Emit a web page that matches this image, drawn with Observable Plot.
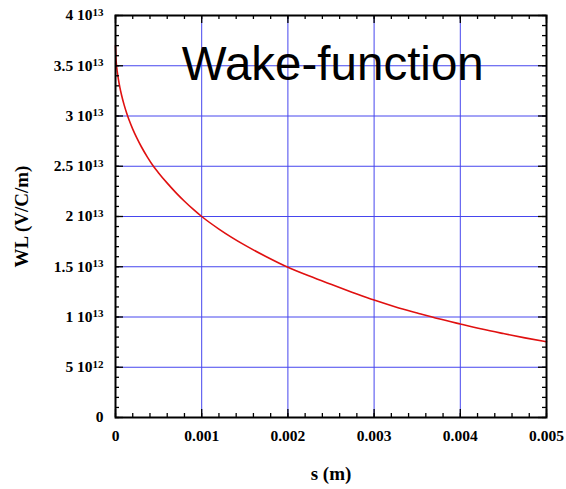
<!DOCTYPE html>
<html>
<head>
<meta charset="utf-8">
<script src="https://cdn.jsdelivr.net/npm/d3@7"></script>
<script src="https://cdn.jsdelivr.net/npm/@observablehq/plot@0.6"></script>
<style>
  html, body { margin: 0; padding: 0; background: #fff; }
</style>
</head>
<body>
<div id="chart"></div>
<script>
// Longitudinal wake function W_L(s) sampled along the bunch coordinate s (m)
const sValues = [0, 0.000005, 0.00001, 0.00002, 0.00003, 0.00005, 0.00007, 0.0001, 0.00013, 0.00016, 0.0002,
                 0.00025, 0.0003, 0.00037, 0.00044, 0.0005, 0.0006, 0.0007, 0.0008, 0.0009, 0.001,
                 0.0012, 0.0015, 0.00175, 0.002, 0.00225, 0.0025, 0.00275, 0.003, 0.00325, 0.0035,
                 0.00375, 0.004, 0.00425, 0.0045, 0.00475, 0.005];
const wlValues = [3.70e13, 3.58e13, 3.52e13, 3.445e13, 3.384e13, 3.287e13, 3.209e13, 3.111e13, 3.028e13, 2.955e13, 2.87e13,
                  2.777e13, 2.694e13, 2.591e13, 2.50e13, 2.434e13, 2.332e13, 2.238e13, 2.152e13, 2.073e13, 2.00e13,
                  1.875e13, 1.715e13, 1.60e13, 1.495e13, 1.407e13, 1.325e13, 1.245e13, 1.168e13, 1.10e13, 1.04e13,
                  0.982e13, 0.93e13, 0.88e13, 0.835e13, 0.792e13, 0.753e13];

// Axis ticks and labels
const xTicks = [0, 0.001, 0.002, 0.003, 0.004, 0.005];
const xTickLabels = ["0", "0.001", "0.002", "0.003", "0.004", "0.005"];
const yTicks = [0, 5e12, 1e13, 1.5e13, 2e13, 2.5e13, 3e13, 3.5e13, 4e13];
const yTickLabels = ["0", "5 10^12", "1 10^13", "1.5 10^13", "2 10^13", "2.5 10^13", "3 10^13", "3.5 10^13", "4 10^13"];
const xGrid = [0.001, 0.002, 0.003, 0.004];
const yGrid = [5e12, 1e13, 1.5e13, 2e13, 2.5e13, 3e13, 3.5e13];

const title = "Wake-function";
const xTitle = "s (m)";
const yTitle = "WL (V/C/m)";

const curve = sValues.map((s, i) => ({s, wl: wlValues[i]}));
const xMinor = d3.range(0, 0.005 + 1e-9, 0.0002);
const yMinor = d3.range(0, 4e13 + 1, 1e12);

const width = 566, height = 489;
const margin = {top: 15, right: 20, bottom: 72, left: 115};
const innerW = width - margin.left - margin.right;
const innerH = height - margin.top - margin.bottom;

const serif = "'Liberation Serif', 'Times New Roman', Times, serif";
const sans = "'Liberation Sans', Arial, Helvetica, sans-serif";
const gridColor = "#4646ee";
const tickStyle = {stroke: "black", strokeWidth: 1.3};

const chart = Plot.plot({
  width, height,
  marginTop: margin.top, marginRight: margin.right,
  marginBottom: margin.bottom, marginLeft: margin.left,
  style: {background: "white", overflow: "visible"},
  x: {domain: [0, 0.005], axis: null},
  y: {domain: [0, 4e13], axis: null},
  marks: [
    // grid
    Plot.ruleX(xGrid, {x: d => d, stroke: gridColor, strokeWidth: 1}),
    Plot.ruleY(yGrid, {y: d => d, stroke: gridColor, strokeWidth: 1}),
    // wake curve
    Plot.line(curve, {x: "s", y: "wl", stroke: "#e01010", strokeWidth: 1.6, curve: "monotone-x"}),
    // inward ticks on all four sides
    Plot.tickX(xMinor, {x: d => d, insetTop: innerH - 4, ...tickStyle}),
    Plot.tickX(xMinor, {x: d => d, insetBottom: innerH - 4, ...tickStyle}),
    Plot.tickX(xTicks, {x: d => d, insetTop: innerH - 8, ...tickStyle}),
    Plot.tickX(xTicks, {x: d => d, insetBottom: innerH - 8, ...tickStyle}),
    Plot.tickY(yMinor, {y: d => d, insetRight: innerW - 4, ...tickStyle}),
    Plot.tickY(yMinor, {y: d => d, insetLeft: innerW - 4, ...tickStyle}),
    Plot.tickY(yTicks, {y: d => d, insetRight: innerW - 8, ...tickStyle}),
    Plot.tickY(yTicks, {y: d => d, insetLeft: innerW - 8, ...tickStyle}),
    Plot.frame({stroke: "black", strokeWidth: 2}),
    // tick labels
    Plot.text(xTicks, {
      x: d => d, text: (d, i) => xTickLabels[i], frameAnchor: "bottom", lineAnchor: "middle", dy: 19,
      fontFamily: serif, fontWeight: "bold", fontSize: 15.5, fill: "black"
    }),
    Plot.text(yTicks, {
      y: d => d, text: (d, i) => yTickLabels[i], frameAnchor: "left", textAnchor: "end", dx: -12,
      fontFamily: serif, fontWeight: "bold", fontSize: 15.5, fill: "black"
    }),
    // title inside the plot
    Plot.text([title], {
      x: 0.00077, y: 3.51e13, text: d => d, textAnchor: "start",
      fontFamily: sans, fontSize: 47.5, fill: "black"
    }),
    // axis titles
    Plot.text([xTitle], {
      text: d => d, frameAnchor: "bottom", lineAnchor: "middle", textAnchor: "middle", dy: 56,
      fontFamily: serif, fontWeight: "bold", fontSize: 19, fill: "black"
    }),
    Plot.text([yTitle], {
      text: d => d, frameAnchor: "left", textAnchor: "middle", lineAnchor: "middle", dx: -94, rotate: -90,
      fontFamily: serif, fontWeight: "bold", fontSize: 19, fill: "black"
    })
  ]
});

// Render powers of ten as superscripts: "3.5 10^13" -> 3.5 10<sup>13</sup>
d3.select(chart).selectAll("text").each(function () {
  const el = d3.select(this);
  if (!el.selectAll("tspan").empty()) return;
  const label = el.text();
  if (label.indexOf("^") < 0) return;
  const [base, exp] = label.split("^");
  el.text(base);
  el.append("tspan").attr("dy", "-0.42em").attr("font-size", "11px").text(exp);
});

document.getElementById("chart").appendChild(chart);
</script>
</body>
</html>
